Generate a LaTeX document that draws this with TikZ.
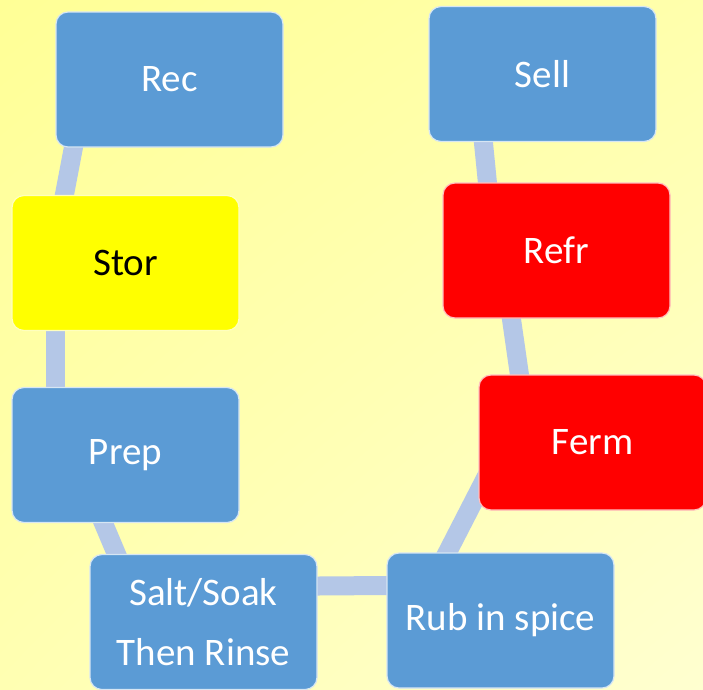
\documentclass[tikz,border=0pt]{standalone}
\usepackage{fontspec}
\setmainfont{Carlito}
\usetikzlibrary{positioning,backgrounds,shadings}
\definecolor{stepblue}{RGB}{91,155,213}
\definecolor{stepred}{RGB}{255,0,0}
\definecolor{stepyellow}{RGB}{255,255,0}
\definecolor{linkblue}{RGB}{180,199,231}
\definecolor{paperA}{RGB}{255,255,150}
\definecolor{paperB}{RGB}{255,255,172}
\definecolor{paperC}{RGB}{255,255,178}
\definecolor{paperD}{RGB}{255,255,208}
\tikzset{
  stage/.style={rectangle, rounded corners=12pt, draw=white!75!stepblue, line width=1.2pt,
                fill=stepblue, minimum width=227pt, minimum height=135pt, inner sep=0pt,
                text=white, align=center, font=\fontsize{39}{60}\selectfont},
  stagehot/.style ={stage, fill=stepred, draw=white!75!stepred},
  stagekeep/.style={stage, fill=stepyellow, draw=white!75!stepyellow, text=black},
  link/.style={line width=19pt, linkblue, shorten <=-12pt, shorten >=-12pt},
}

\begin{document}
\begin{tikzpicture}[x=1pt, y=-1pt]
  \useasboundingbox (0,0) rectangle (703,689);
  % stages of the cycle
  \node[stage]     (rec)  at (169.5,79.5) {Rec};
  \node[stagekeep] (stor) at (125.5,263)  {Stor};
  \node[stage]     (prep) at (125.5,455)  {Prep};
  \node[stage]     (salt) at (203.5,622)  {Salt/Soak\\Then Rinse};
  \node[stage]     (rub)  at (500.5,620.5){Rub in spice};
  \node[stagehot]  (ferm) at (592.5,442.5){Ferm};
  \node[stagehot]  (refr) at (556.5,250.5){Refr};
  \node[stage]     (sell) at (542.5,74)   {Sell};
  \begin{scope}[on background layer]
    \shade[upper left=paperA, upper right=paperB, lower left=paperC, lower right=paperD]
      (0,0) rectangle (703,689);
    \draw[link] ([xshift=18pt]rec.south west)  -- ([xshift=53pt]stor.north west);
    \draw[link] ([xshift=44pt]stor.south west) -- ([xshift=44pt]prep.north west);
    \draw[link] ([xshift=92pt]prep.south west) -- ([xshift=27pt]salt.north west);
    \draw[link] ([yshift=36pt]salt.east)       -- ([yshift=35pt]rub.west);
    \draw[link] ([xshift=61pt]rub.north west)  -- ([xshift=11pt,yshift=40pt]ferm.south west);
    \draw[link] ([xshift=41pt]ferm.north west) -- ([xshift=69pt]refr.south west);
    \draw[link] ([xshift=45pt]refr.north west) -- ([xshift=55pt]sell.south west);
  \end{scope}
\end{tikzpicture}
\end{document}
